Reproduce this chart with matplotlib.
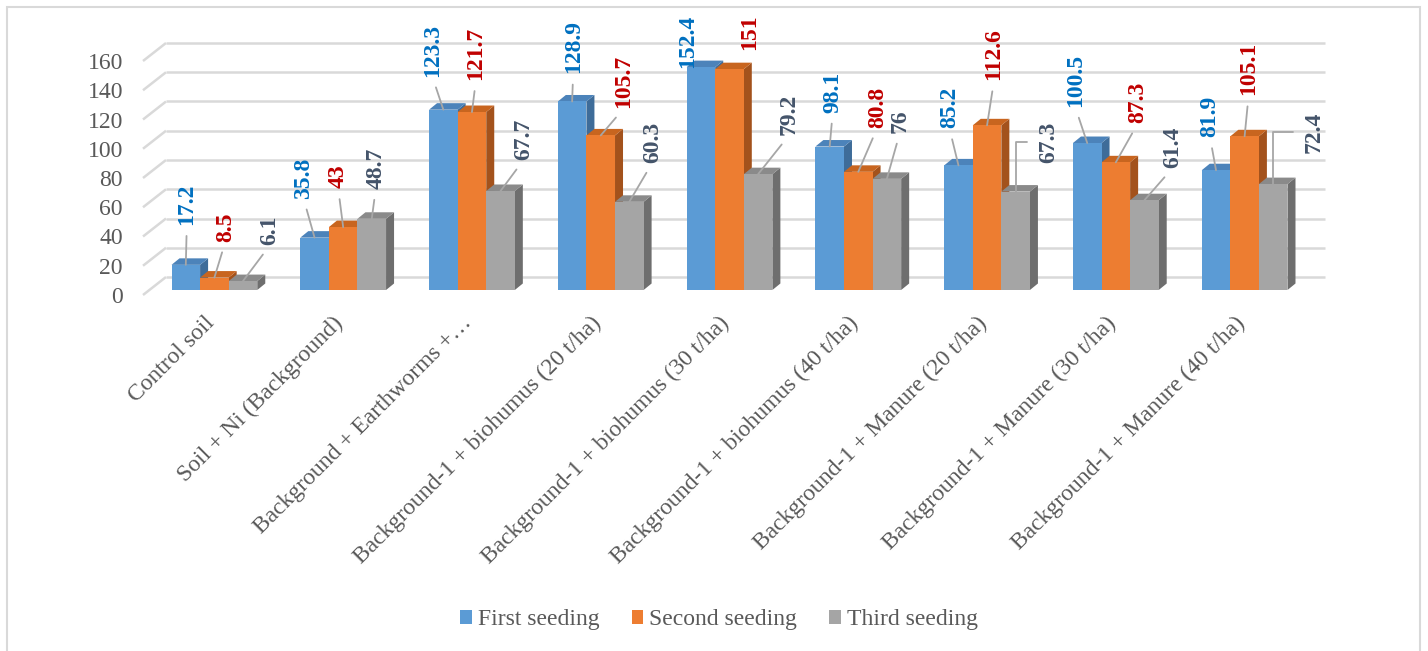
import matplotlib
matplotlib.use("Agg")
import matplotlib.pyplot as plt
from matplotlib.patches import Polygon, Rectangle, Patch
from matplotlib.transforms import ScaledTranslation

plt.rcParams['font.family'] = ['Liberation Serif', 'DejaVu Serif']

# ---- data ----
categories = [
    "Control soil",
    "Soil + Ni (Background)",
    "Background + Earthworms +…",
    "Background-1 + biohumus (20 t/ha)",
    "Background-1 + biohumus (30 t/ha)",
    "Background-1 + biohumus (40 t/ha)",
    "Background-1 + Manure (20 t/ha)",
    "Background-1 + Manure (30 t/ha)",
    "Background-1 + Manure (40 t/ha)",
]
first_seeding = [17.2, 35.8, 123.3, 128.9, 152.4, 98.1, 85.2, 100.5, 81.9]
second_seeding = [8.5, 43, 121.7, 105.7, 151, 80.8, 112.6, 87.3, 105.1]
third_seeding = [6.1, 48.7, 67.7, 60.3, 79.2, 76, 67.3, 61.4, 72.4]
series_names = ["First seeding", "Second seeding", "Third seeding"]
y_ticks = [0, 20, 40, 60, 80, 100, 120, 140, 160]

# ---- style ----
front_colors = ["#5B9BD5", "#ED7D31", "#A5A5A5"]
top_colors = ["#4C83BA", "#C8651F", "#8A8A8A"]
side_colors = ["#3E6C99", "#A3521C", "#6E6E6E"]
label_colors = ["#0070C0", "#C00000", "#44546A"]
grid_color = "#D9D9D9"
text_color = "#595959"
leader_color = "#A6A6A6"

# label placement (pixel offsets of the label's lower end from the bar top)
label_offsets = [
    [(1, 40), (-11, 39), (-11, 33), (1, 28), (-13, -1), (3, 34), (-9, 37), (-12, 36), (-6, 33)],
    [(11, 36), (-5, 39), (4, 32), (23, 27), (20, 19), (19, 44), (7, 45), (22, 39), (4, 41)],
    [(27, 36), (4, 30), (23, 31), (23, 39), (31, 39), (13, 46), (33, 29), (28, 32), (41, 31)],
]
no_leader = {(0, 4), (1, 4)}
elbow_leader = {(2, 6), (2, 8)}

W, H, DPI = 1428, 651, 100
fig = plt.figure(figsize=(W / DPI, H / DPI), dpi=DPI)

# front edge of the floor (pixel box)
left_px, right_px, base_px, top_px = 143, 1302, 295, 61
ax = fig.add_axes([left_px / W, (H - base_px) / H,
                   (right_px - left_px) / W, (base_px - top_px) / H])
n = len(categories)
ax.set_xlim(-0.5, n - 0.5)
ax.set_ylim(0, 160)
for s in ax.spines.values():
    s.set_visible(False)

px_x = (right_px - left_px) / n          # pixels per category unit
px_y = (base_px - top_px) / 160.0        # pixels per value unit

def dx(p):
    return p / px_x

def dy(p):
    return p / px_y

# pseudo-3D geometry
wall_dx, wall_dy = dx(23), dy(18)
bar_dx, bar_dy = dx(7), dy(5)
depth_dx, depth_dy = dx(8), dy(6.5)
bar_w = 0.222

x0, x1 = -0.5, n - 0.5
# back wall gridlines and left wall diagonals
for t in y_ticks:
    ax.plot([x0 + wall_dx, x1 + wall_dx], [t + wall_dy, t + wall_dy],
            color=grid_color, lw=1.8, zorder=1, clip_on=False, solid_capstyle='butt')
    ax.plot([x0, x0 + wall_dx], [t, t + wall_dy],
            color=grid_color, lw=1.8, zorder=1, clip_on=False, solid_capstyle='butt')

series = [first_seeding, second_seeding, third_seeding]
for j, vals in enumerate(series):
    z = 3 + j
    xs = [i + (j - 1) * bar_w + bar_dx for i in range(n)]
    ax.bar(xs, vals, width=bar_w, bottom=bar_dy, color=front_colors[j],
           zorder=z + 0.2, clip_on=False, linewidth=0)
    for i, (xc, v) in enumerate(zip(xs, vals)):
        xl, xr = xc - bar_w / 2, xc + bar_w / 2
        yb, yt = bar_dy, bar_dy + v
        top = Polygon([(xl, yt), (xr, yt), (xr + depth_dx, yt + depth_dy),
                       (xl + depth_dx, yt + depth_dy)], closed=True,
                      facecolor=top_colors[j], edgecolor='none', zorder=z, clip_on=False)
        side = Polygon([(xr, yb), (xr + depth_dx, yb + depth_dy),
                        (xr + depth_dx, yt + depth_dy), (xr, yt)], closed=True,
                       facecolor=side_colors[j], edgecolor='none', zorder=z, clip_on=False)
        ax.add_patch(side)
        ax.add_patch(top)

        ox, oy = label_offsets[j][i]
        if (j, i) in no_leader:
            arrow = None
        elif (j, i) in elbow_leader:
            arrow = dict(arrowstyle='-', color=leader_color, lw=1.3,
                         connectionstyle='angle,angleA=0,angleB=90,rad=0',
                         relpos=(0, 0.5), shrinkA=6, shrinkB=0)
        else:
            arrow = dict(arrowstyle='-', color=leader_color, lw=1.3,
                         relpos=(0.5, 0), shrinkA=6, shrinkB=0)
        ax.annotate(f"{v:g}", xy=(xc, yt), xytext=(ox, oy), textcoords='offset pixels',
                    rotation=90, ha='center', va='bottom', fontsize=17,
                    fontweight='bold', color=label_colors[j], zorder=10,
                    arrowprops=arrow, annotation_clip=False)

# axes ticks
ax.set_yticks(y_ticks)
ax.set_yticklabels([str(t) for t in y_ticks])
ax.set_xticks(range(n))
ax.set_xticklabels(categories, rotation=45, ha='right', va='center',
                   rotation_mode='anchor')
ax.tick_params(axis='y', length=0, pad=14.4, labelsize=17, labelcolor=text_color)
ax.tick_params(axis='x', length=0, pad=18, labelsize=17, labelcolor=text_color)
for lab in ax.get_xticklabels():
    lab.set_transform(lab.get_transform() + ScaledTranslation(4 / DPI, 0, fig.dpi_scale_trans))

# legend
handles = [Patch(facecolor=c, edgecolor='none') for c in front_colors]
fig.legend(handles, series_names, loc='center', bbox_to_anchor=(719 / W, 1 - 620 / H),
           ncol=3, frameon=False, fontsize=17, handlelength=0.5, handleheight=0.5,
           handletextpad=0.25, columnspacing=1.35, labelcolor=text_color)

# chart frame
fig.add_artist(Rectangle((7 / W, -0.02), (1420 - 7) / W, (H - 7) / H + 0.02,
                         transform=fig.transFigure, fill=False,
                         edgecolor=grid_color, lw=1.5))

fig.savefig("out.png", dpi=DPI, facecolor='white')
